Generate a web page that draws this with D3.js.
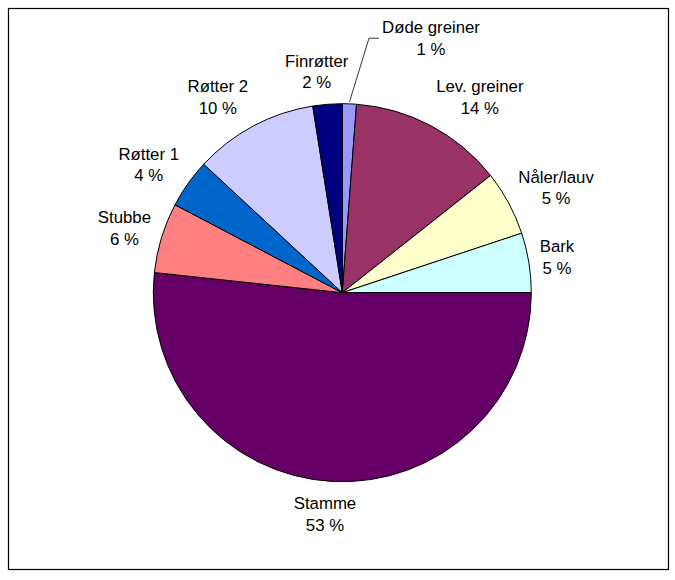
<!DOCTYPE html>
<html>
<head>
<meta charset="utf-8">
<script src="https://cdn.jsdelivr.net/npm/d3@7"></script>
<style>
  html, body { margin: 0; padding: 0; background: #fff; }
  svg { display: block; }
  text { font-family: "Liberation Sans", Arial, sans-serif; fill: #000; }
</style>
</head>
<body>
<svg id="chart" width="675" height="580"></svg>
<script>
// ---- data ----
const categories = ["Døde greiner", "Lev. greiner", "Nåler/lauv", "Bark", "Stamme", "Stubbe", "Røtter 1", "Røtter 2", "Finrøtter"];
const shares = [1.2, 13.15, 5.55, 5.1, 51.7, 6.0, 4.2, 10.6, 2.5];     // slice sizes as drawn
const percentLabels = ["1 %", "14 %", "5 %", "5 %", "53 %", "6 %", "4 %", "10 %", "2 %"];
const colors = ["#9999FF", "#993366", "#FFFFCC", "#CCFFFF", "#660066", "#FF8080", "#0066CC", "#CCCCFF", "#000080"];

// ---- layout ----
const W = 675, H = 580;
const cx = 342.3, cy = 292.7, R = 189;
const fontSize = 16.8, lineGap = 21.7, capH = 12.0;
const svg = d3.select("#chart");

svg.append("rect")
  .attr("x", 8.5).attr("y", 8.5)
  .attr("width", 660).attr("height", 561)
  .attr("fill", "none").attr("stroke", "#000").attr("stroke-width", 1.2);

const g = svg.append("g").attr("transform", `translate(${cx},${cy})`);

const data = categories.map((c, i) => ({ name: c, value: shares[i], label: percentLabels[i], color: colors[i] }));
const pie = d3.pie().sort(null).value(d => d.value).startAngle(0).endAngle(2 * Math.PI);
const arc = d3.arc().innerRadius(0).outerRadius(R);
const arcs = pie(data);

g.selectAll("path.slice")
  .data(arcs)
  .join("path")
  .attr("class", "slice")
  .attr("d", arc)
  .attr("fill", d => d.data.color)
  .attr("stroke", "#000")
  .attr("stroke-width", 1)
  .attr("stroke-linejoin", "round");

// labels
const labelG = g.append("g");
arcs.forEach((a, i) => {
  const mid = (a.startAngle + a.endAngle) / 2;
  const dx = Math.sin(mid), dy = -Math.cos(mid);
  const t = labelG.append("text").attr("text-anchor", "middle").style("font-size", fontSize + "px");
  const t1 = t.append("tspan").text(a.data.name);
  const t2 = t.append("tspan").text(a.data.label);
  const w = Math.max(t1.node().getComputedTextLength(), t2.node().getComputedTextLength());
  const hh = (capH + lineGap) / 2;
  let lx, ly;
  if (i === 0) {
    // label moved up with a leader line
    lx = 88.7; ly = -254.5;
    const p0 = [Math.sin(mid) * (R + 2), -Math.cos(mid) * (R + 2)];
    const left = lx - w / 2 - 3;
    labelG.append("polyline")
      .attr("points", [p0, [left - 10, ly], [left, ly]].map(p => p.join(",")).join(" "))
      .attr("fill", "none").attr("stroke", "#000").attr("stroke-width", 0.8);
  } else {
    const m = Math.min(1, Math.abs(dx) * 4) * Math.sign(dx);
    lx = dx * 200 + (w / 2) * m;
    ly = dy * 205 + dy * hh;
  }
  const base1 = ly - hh + capH;
  t1.attr("x", lx).attr("y", base1);
  t2.attr("x", lx).attr("y", base1 + lineGap);
});
</script>
</body>
</html>
